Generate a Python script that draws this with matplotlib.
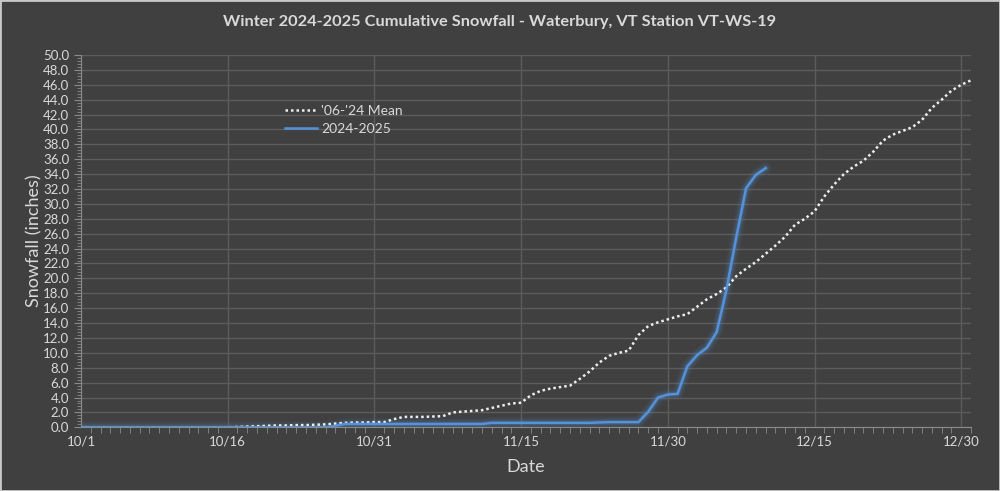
import matplotlib
matplotlib.use("Agg")
import matplotlib.pyplot as plt
import matplotlib.dates as mdates
import numpy as np
import pandas as pd

plt.rcParams['font.family'] = ['Lato', 'DejaVu Sans']

start_date = "2024-10-01"

mean_0624 = [0, 0, 0, 0, 0, 0, 0, 0, 0, 0,
             0, 0, 0, 0, 0, 0, 0.05, 0.1, 0.15, 0.2,
             0.25, 0.25, 0.3, 0.3, 0.35, 0.4, 0.5, 0.6, 0.65, 0.65,
             0.7, 0.7, 1.1, 1.4, 1.4, 1.4, 1.45, 1.5, 2.0, 2.1,
             2.2, 2.3, 2.6, 2.9, 3.2, 3.3, 4.3, 4.9, 5.2, 5.4,
             5.6, 6.5, 7.5, 8.7, 9.6, 10.0, 10.3, 12.4, 13.6, 14.1,
             14.5, 14.9, 15.2, 16.2, 17.2, 17.9, 18.8, 20.3, 21.3, 22.2,
             23.3, 24.4, 25.6, 27.2, 28.0, 29.0, 31.0, 32.6, 34.0, 35.0,
             35.8, 37.0, 38.5, 39.3, 39.8, 40.3, 41.3, 42.9, 44.0, 45.2,
             46.0, 46.6]

season_2425 = [0, 0, 0, 0, 0, 0, 0, 0, 0, 0,
               0, 0, 0, 0, 0, 0, 0, 0, 0, 0,
               0, 0, 0, 0, 0, 0, 0.2, 0.45, 0.45, 0.45,
               0.45, 0.45, 0.45, 0.45, 0.45, 0.45, 0.45, 0.45, 0.45, 0.45,
               0.45, 0.45, 0.6, 0.6, 0.6, 0.6, 0.6, 0.6, 0.6, 0.6,
               0.6, 0.6, 0.6, 0.65, 0.7, 0.7, 0.7, 0.7, 2.1, 4.0,
               4.4, 4.5, 8.2, 9.7, 10.7, 12.8, 18.5, 25.5, 32.1, 33.9,
               34.8]

labels = ["'06-'24 Mean", "2024-2025"]
title = "Winter 2024-2025 Cumulative Snowfall - Waterbury, VT Station VT-WS-19"

mean_dates = pd.date_range(start_date, periods=len(mean_0624), freq="D")
season_dates = pd.date_range(start_date, periods=len(season_2425), freq="D")

bg = "#404040"
txt = "#d9d9d9"
grid = "#5c5c5c"
blue = "#5592d9"

fig = plt.figure(figsize=(10, 4.91), dpi=100, facecolor=bg)
fig.patches.append(plt.Rectangle((0, 0), 1, 1, transform=fig.transFigure,
                                 fill=False, edgecolor="#c8c8c8", linewidth=2))
ax = fig.add_axes([0.081, 0.1297, 0.89, 0.7583])
ax.set_facecolor(bg)

# glow for blue line
for lw, a in [(9, 0.05), (7, 0.07), (5, 0.1), (3.5, 0.15)]:
    ax.plot(season_dates, season_2425, color=blue, lw=lw, alpha=a,
            solid_capstyle="round", solid_joinstyle="round")
ax.plot(mean_dates, mean_0624, color="#eeeeee", lw=1.8, linestyle=(0, (1, 1.2)),
        label=labels[0])
ax.plot(season_dates, season_2425, color=blue, lw=1.8, label=labels[1],
        solid_joinstyle="round")

ax.set_xlim(mean_dates[0], mean_dates[-1])
ax.set_ylim(0, 50)
ax.set_yticks(np.arange(0, 50.1, 2))
ax.yaxis.set_major_formatter(plt.FuncFormatter(lambda v, p: f"{v:.1f}"))
ax.yaxis.set_minor_locator(plt.MultipleLocator(0.4))

xt = pd.date_range(start_date, periods=7, freq="15D")
ax.set_xticks(xt)
ax.set_xticklabels([f"{d.month}/{d.day}" for d in xt])
ax.xaxis.set_minor_locator(mdates.DayLocator())

ax.grid(True, which="major", color=grid, lw=1)
ax.set_axisbelow(True)
for s in ["top", "right"]:
    ax.spines[s].set_visible(False)
for s in ["left", "bottom"]:
    ax.spines[s].set_color("#8a8a8a")
ax.tick_params(axis="both", which="both", colors="#8a8a8a", labelcolor=txt,
               labelsize=9.5, direction="out")
ax.tick_params(axis="y", which="major", length=5)
ax.tick_params(axis="y", which="minor", length=3)
ax.tick_params(axis="x", which="major", length=0, pad=6)
ax.tick_params(axis="x", which="minor", length=4)

ax.set_ylabel("Snowfall (inches)", color=txt, fontsize=13)
ax.yaxis.set_label_coords(-0.043, 0.5)
ax.set_xlabel("Date", color=txt, fontsize=13, labelpad=8)
fig.text(0.5, 0.955, title, ha="center", va="center", color=txt,
         fontsize=11.8, fontweight="bold")

leg = ax.legend(loc="upper left", bbox_to_anchor=(0.215, 0.9), frameon=False,
                fontsize=10, handlelength=2.3, handletextpad=0.3,
                labelspacing=0.45)
for t in leg.get_texts():
    t.set_color(txt)

fig.savefig("out.png", dpi=100, facecolor=bg)
